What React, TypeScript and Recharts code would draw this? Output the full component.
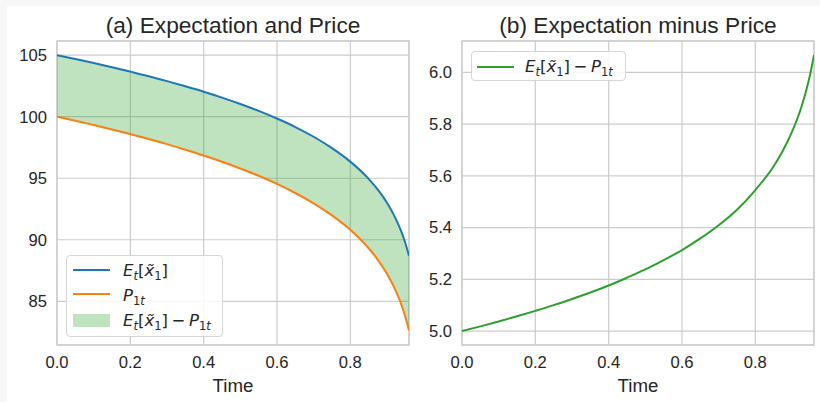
import React from 'react';
import { ComposedChart, Line, Area, XAxis, YAxis, CartesianGrid, Legend, ReferenceArea } from 'recharts';

const times = [0, 0.05, 0.1, 0.15, 0.2, 0.25, 0.3, 0.35, 0.4, 0.45, 0.5, 0.55, 0.6, 0.65, 0.7, 0.75, 0.8, 0.85, 0.875, 0.9, 0.925, 0.94, 0.95, 0.96];
const expectation = [105.0, 104.69, 104.36, 104.02, 103.66, 103.29, 102.89, 102.47, 102.03, 101.55, 101.03, 100.47, 99.85, 99.16, 98.37, 97.45, 96.35, 94.95, 94.07, 93.01, 91.64, 90.6, 89.74, 88.7];
const price = [100.0, 99.67, 99.32, 98.96, 98.58, 98.19, 97.77, 97.32, 96.85, 96.34, 95.79, 95.2, 94.54, 93.8, 92.96, 91.98, 90.81, 89.31, 88.37, 87.24, 85.78, 84.66, 83.75, 82.63];
const spread = [5.0, 5.018, 5.037, 5.057, 5.078, 5.1, 5.124, 5.149, 5.176, 5.206, 5.238, 5.274, 5.313, 5.358, 5.409, 5.469, 5.545, 5.637, 5.697, 5.77, 5.863, 5.936, 5.995, 6.067];

const xTicks = [0, 0.2, 0.4, 0.6, 0.8];
const yTicksA = [85, 90, 95, 100, 105];
const yTicksB = [5.0, 5.2, 5.4, 5.6, 5.8, 6.0];
const titleA = '(a) Expectation and Price';
const titleB = '(b) Expectation minus Price';
const xLabel = 'Time';

const xDomain: [number, number] = [0, 0.96];
const yDomainA: [number, number] = [81.45, 106.15];
const yDomainB: [number, number] = [4.946, 6.121];

const BLUE = '#1f77b4';
const ORANGE = '#ff7f0e';
const GREEN = '#2ca02c';
const GRID = '#cccccc';
const TEXT = '#262626';
const FONT = '"Liberation Sans", Arial, sans-serif';
const MATHFONT = '"DejaVu Sans", sans-serif';

const rows = times.map((t, i) => ({
  t,
  E: expectation[i],
  P: price[i],
  band: [price[i], expectation[i]],
  D: spread[i],
}));

const it: React.CSSProperties = { fontStyle: 'italic' };
const sub: React.CSSProperties = { fontSize: '0.7em', position: 'relative', top: '0.32em' };

const MathE = () => (
  <span>
    <span style={it}>E</span>
    <span style={{ ...sub, ...it }}>t</span>
    <span>[</span>
    <span style={it}>{'x\u0303'}</span>
    <span style={sub}>1</span>
    <span>]</span>
  </span>
);
const MathP = () => (
  <span>
    <span style={it}>P</span>
    <span style={sub}>
      1<span style={it}>t</span>
    </span>
  </span>
);
const MathDiff = () => (
  <span>
    <MathE />
    <span style={{ margin: '0 0.22em' }}>{'\u2212'}</span>
    <MathP />
  </span>
);

const boxStyle: React.CSSProperties = {
  position: 'relative',
  boxSizing: 'border-box',
  border: '1px solid #d6d6d6',
  borderRadius: 4,
  background: 'rgba(255,255,255,0.85)',
  fontFamily: MATHFONT,
  fontSize: 16.5,
  color: TEXT,
};

const txt = (left: number, top: number): React.CSSProperties => ({
  position: 'absolute',
  left,
  top,
  whiteSpace: 'nowrap',
  lineHeight: '20px',
});

const LegendA = () => (
  <div style={{ ...boxStyle, width: 157, height: 82 }}>
    <div style={{ position: 'absolute', left: 6, top: 13, width: 37, height: 2, background: BLUE }} />
    <div style={txt(56, 5)}><MathE /></div>
    <div style={{ position: 'absolute', left: 6, top: 37, width: 37, height: 2, background: ORANGE }} />
    <div style={txt(56, 30)}><MathP /></div>
    <div style={{ position: 'absolute', left: 6, top: 58, width: 37, height: 13, background: GREEN, opacity: 0.3 }} />
    <div style={txt(56, 55)}><MathDiff /></div>
  </div>
);

const LegendB = () => (
  <div style={{ ...boxStyle, width: 155, height: 30 }}>
    <div style={{ position: 'absolute', left: 5, top: 14, width: 37, height: 2, background: GREEN }} />
    <div style={txt(53, 5)}><MathDiff /></div>
  </div>
);

const tickStyle = { fill: TEXT, fontSize: 16.6, fontFamily: FONT };
const fmt = (v: number) => v.toFixed(1);

const titleStyle = (left: number, width: number): React.CSSProperties => ({
  position: 'absolute',
  left,
  width,
  top: 14,
  textAlign: 'center',
  fontFamily: FONT,
  fontSize: 22.7,
  lineHeight: '22.7px',
  color: TEXT,
  whiteSpace: 'nowrap',
});

const xLabelProps = { value: xLabel, position: 'insideBottom' as const, offset: 10, fill: TEXT, fontSize: 18.7, fontFamily: FONT };

export default function App() {
  return (
    <div style={{ position: 'absolute', left: 0, top: 0, width: 820, height: 402, background: '#f7f7f7', overflow: 'hidden' }}>
      <div style={{ position: 'absolute', left: 7, top: 6, width: 813, height: 396, background: '#ffffff' }} />
      <div style={titleStyle(57, 352)}>{titleA}</div>
      <div style={titleStyle(462, 352)}>{titleB}</div>

      <div style={{ position: 'absolute', left: 0, top: 0 }}>
        <ComposedChart width={420} height={402} data={rows} margin={{ top: 41, right: 11, bottom: 0, left: 0 }}>
          <CartesianGrid stroke={GRID} strokeWidth={1.2} />
          <XAxis
            type="number"
            dataKey="t"
            domain={xDomain}
            ticks={xTicks}
            tickFormatter={fmt}
            allowDataOverflow
            height={57}
            axisLine={false}
            tickLine={false}
            tickSize={0}
            tickMargin={11}
            tick={tickStyle}
            label={xLabelProps}
          />
          <YAxis
            type="number"
            domain={yDomainA}
            ticks={yTicksA}
            allowDataOverflow
            width={57}
            axisLine={false}
            tickLine={false}
            tickSize={0}
            tickMargin={10}
            tick={tickStyle}
          />
          <ReferenceArea x1={xDomain[0]} x2={xDomain[1]} y1={yDomainA[0]} y2={yDomainA[1]} fill="none" stroke={GRID} strokeWidth={1.3} ifOverflow="visible" />
          <Area type="monotone" dataKey="band" stroke="none" fill={GREEN} fillOpacity={0.3} isAnimationActive={false} />
          <Line type="monotone" dataKey="E" stroke={BLUE} strokeWidth={2} dot={false} isAnimationActive={false} />
          <Line type="monotone" dataKey="P" stroke={ORANGE} strokeWidth={2} dot={false} isAnimationActive={false} />
          <Legend
            layout="horizontal"
            verticalAlign="middle"
            align="center"
            content={() => <LegendA />}
            wrapperStyle={{ left: 66, top: 255, width: 157, height: 82 }}
          />
        </ComposedChart>
      </div>

      <div style={{ position: 'absolute', left: 410, top: 0 }}>
        <ComposedChart width={410} height={402} data={rows} margin={{ top: 41, right: 6, bottom: 0, left: 0 }}>
          <CartesianGrid stroke={GRID} strokeWidth={1.2} />
          <XAxis
            type="number"
            dataKey="t"
            domain={xDomain}
            ticks={xTicks}
            tickFormatter={fmt}
            allowDataOverflow
            height={57}
            axisLine={false}
            tickLine={false}
            tickSize={0}
            tickMargin={11}
            tick={tickStyle}
            label={xLabelProps}
          />
          <YAxis
            type="number"
            domain={yDomainB}
            ticks={yTicksB}
            tickFormatter={fmt}
            allowDataOverflow
            width={52}
            axisLine={false}
            tickLine={false}
            tickSize={0}
            tickMargin={10}
            tick={tickStyle}
          />
          <ReferenceArea x1={xDomain[0]} x2={xDomain[1]} y1={yDomainB[0]} y2={yDomainB[1]} fill="none" stroke={GRID} strokeWidth={1.3} ifOverflow="visible" />
          <Line type="monotone" dataKey="D" stroke={GREEN} strokeWidth={2} dot={false} isAnimationActive={false} />
          <Legend
            layout="horizontal"
            verticalAlign="middle"
            align="center"
            content={() => <LegendB />}
            wrapperStyle={{ left: 61, top: 51, width: 155, height: 30 }}
          />
        </ComposedChart>
      </div>
    </div>
  );
}
